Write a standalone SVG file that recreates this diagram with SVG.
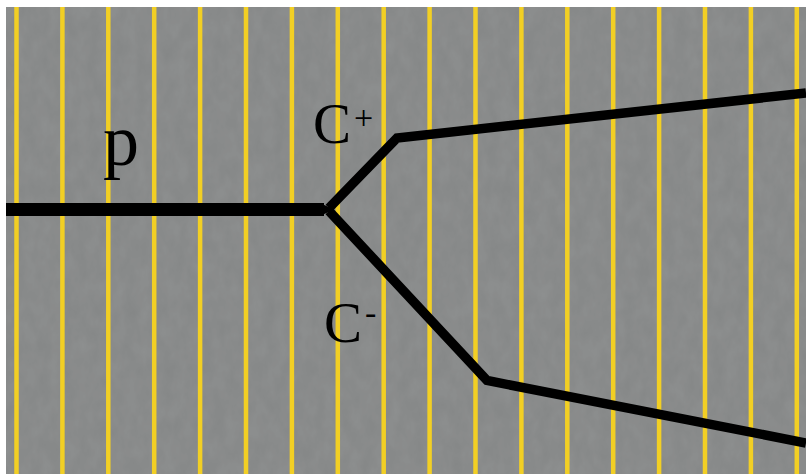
<svg xmlns="http://www.w3.org/2000/svg" width="806" height="474" viewBox="0 0 806 474">
<defs>
<filter id="grain" x="0" y="0" width="100%" height="100%">
<feTurbulence type="fractalNoise" baseFrequency="0.08 0.05" numOctaves="3" seed="4" result="n"/>
<feColorMatrix in="n" type="matrix" values="0 0 0 0 0  0 0 0 0 0  0 0 0 0 0  0 0 0 0.07 0" result="a"/>
<feComposite in="a" in2="SourceGraphic" operator="in"/>
</filter>
<style>
.lane{stroke:#f2cf24;stroke-width:4.5}
.track{fill:none;stroke:#000;stroke-linejoin:miter}
.lbl{font-family:"Liberation Serif","Times New Roman",serif;fill:#000}
</style>
</defs>
<rect width="806" height="474" fill="#ffffff"/>
<rect id="background" x="6" y="7" width="800" height="467" fill="#8e9090"/>
<rect x="6" y="7" width="800" height="467" fill="#000" filter="url(#grain)"/>
<g id="lanes">
<line class="lane" x1="16.5" y1="7" x2="16.5" y2="474"/>
<line class="lane" x1="62.4" y1="7" x2="62.4" y2="474"/>
<line class="lane" x1="108.3" y1="7" x2="108.3" y2="474"/>
<line class="lane" x1="154.2" y1="7" x2="154.2" y2="474"/>
<line class="lane" x1="200.1" y1="7" x2="200.1" y2="474"/>
<line class="lane" x1="246" y1="7" x2="246" y2="474"/>
<line class="lane" x1="291.9" y1="7" x2="291.9" y2="474"/>
<line class="lane" x1="337.8" y1="7" x2="337.8" y2="474"/>
<line class="lane" x1="383.7" y1="7" x2="383.7" y2="474"/>
<line class="lane" x1="429.6" y1="7" x2="429.6" y2="474"/>
<line class="lane" x1="475.5" y1="7" x2="475.5" y2="474"/>
<line class="lane" x1="521.4" y1="7" x2="521.4" y2="474"/>
<line class="lane" x1="567.3" y1="7" x2="567.3" y2="474"/>
<line class="lane" x1="613.2" y1="7" x2="613.2" y2="474"/>
<line class="lane" x1="659.1" y1="7" x2="659.1" y2="474"/>
<line class="lane" x1="705" y1="7" x2="705" y2="474"/>
<line class="lane" x1="750.9" y1="7" x2="750.9" y2="474"/>
<line class="lane" x1="796.8" y1="7" x2="796.8" y2="474"/>
</g>
<g id="tracks">
<path id="p-track" class="track" stroke-width="13" d="M6,209.5 L324,209.5"/>
<path id="junction" d="M320,203 L334,209.5 L320,216 Z" fill="#000"/>
<path id="cplus-track" class="track" stroke-width="9.5" d="M329,208 L397,138 L806,93"/>
<path id="cminus-track" class="track" stroke-width="9.5" d="M329,211 L487,380.5 L806,443"/>
</g>
<g id="labels">
<text id="label-p" class="lbl" x="103" y="165" font-size="72">p</text>
<text id="label-cplus" class="lbl" x="313" y="143" font-size="57">C</text>
<text class="lbl" x="354" y="129" font-size="34">+</text>
<text id="label-cminus" class="lbl" x="324" y="342" font-size="57">C</text>
<text class="lbl" x="365" y="324" font-size="34">-</text>
</g>
</svg>
